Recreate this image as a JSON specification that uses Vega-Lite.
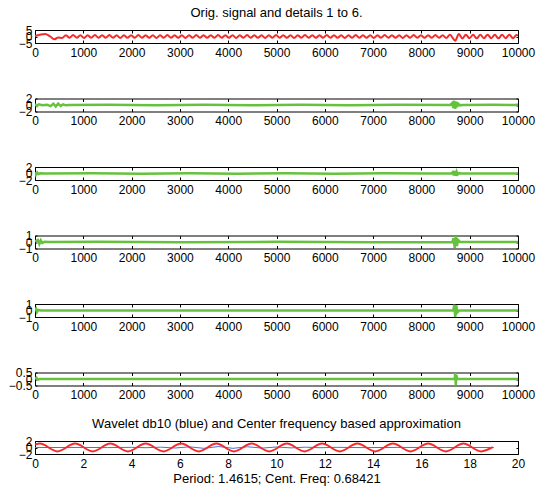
{
  "$schema": "https://vega.github.io/schema/vega-lite/v6.json",
  "background": "white",
  "padding": {"left": 7, "top": 6, "right": 0, "bottom": 0},
  "bounds": "flush",
  "spacing": 55.5,
  "config": {
    "font": "Liberation Sans",
    "view": {"stroke": "#000", "strokeWidth": 1},
    "axis": {"grid": false, "domain": false, "labelFont": "Liberation Sans", "labelFontSize": 12, "labelColor": "#000", "tickColor": "#000", "labelOverlap": false, "labelFlush": false, "title": null},
    "axisX": {"tickSize": -3, "labelPadding": 7},
    "axisY": {"tickSize": -2, "labelPadding": 5},
    "title": {"font": "Liberation Sans", "fontSize": 13, "fontWeight": "normal", "color": "#000", "offset": 4, "anchor": "middle", "frame": "group"}
  },
  "datasets": {
    "s0": [
      {"x":0,"y":0.3},{"x":100,"y":1.3},{"x":210,"y":2.0},{"x":310,"y":0.2},{"x":400,"y":-2.2},{"x":480,"y":-0.7},{"x":560,"y":-1.1},
      {"x":640,"y":1.0},{"x":715,"y":-1.0},{"x":790,"y":1.1},{"x":865,"y":-0.9},{"x":940,"y":1.0},{"x":1015,"y":-1.1},{"x":1090,"y":1.0},{"x":1165,"y":-1.0},{"x":1240,"y":1.1},{"x":1315,"y":-1.0},{"x":1390,"y":0.9},{"x":1465,"y":-1.0},{"x":1540,"y":1.1},{"x":1615,"y":-1.0},{"x":1690,"y":1.0},{"x":1765,"y":-1.1},{"x":1840,"y":1.0},{"x":1915,"y":-0.9},{"x":1990,"y":1.0},{"x":2065,"y":-1.0},{"x":2140,"y":1.1},{"x":2215,"y":-1.0},{"x":2290,"y":1.0},{"x":2365,"y":-1.0},{"x":2440,"y":0.9},{"x":2515,"y":-1.1},{"x":2590,"y":1.0},{"x":2665,"y":-1.0},{"x":2740,"y":1.1},{"x":2815,"y":-0.9},{"x":2890,"y":1.0},{"x":2965,"y":-1.0},{"x":3040,"y":1.0},{"x":3115,"y":-1.1},{"x":3190,"y":1.0},{"x":3265,"y":-1.0},{"x":3340,"y":1.1},{"x":3415,"y":-1.0},{"x":3490,"y":0.9},{"x":3565,"y":-1.0},{"x":3640,"y":1.0},{"x":3715,"y":-1.0},{"x":3790,"y":1.1},{"x":3865,"y":-1.0},{"x":3940,"y":1.0},{"x":4015,"y":-0.9},{"x":4090,"y":1.0},{"x":4165,"y":-1.1},{"x":4240,"y":1.0},{"x":4315,"y":-1.0},{"x":4390,"y":1.1},{"x":4465,"y":-1.0},{"x":4540,"y":1.0},{"x":4615,"y":-1.0},{"x":4690,"y":0.9},{"x":4765,"y":-1.1},{"x":4840,"y":1.0},{"x":4915,"y":-1.0},{"x":4990,"y":1.1},{"x":5065,"y":-0.9},{"x":5140,"y":1.0},{"x":5215,"y":-1.0},{"x":5290,"y":1.0},{"x":5365,"y":-1.1},{"x":5440,"y":1.0},{"x":5515,"y":-1.0},{"x":5590,"y":1.1},{"x":5665,"y":-1.0},{"x":5740,"y":0.9},{"x":5815,"y":-1.0},{"x":5890,"y":1.0},{"x":5965,"y":-1.0},{"x":6040,"y":1.1},{"x":6115,"y":-1.0},{"x":6190,"y":1.0},{"x":6265,"y":-0.9},{"x":6340,"y":1.0},{"x":6415,"y":-1.1},{"x":6490,"y":1.0},{"x":6565,"y":-1.0},{"x":6640,"y":1.1},{"x":6715,"y":-1.0},{"x":6790,"y":1.0},{"x":6865,"y":-1.0},{"x":6940,"y":0.9},{"x":7015,"y":-1.1},{"x":7090,"y":1.0},{"x":7165,"y":-1.0},{"x":7240,"y":1.1},{"x":7315,"y":-0.9},{"x":7390,"y":1.0},{"x":7465,"y":-1.0},{"x":7540,"y":1.0},{"x":7615,"y":-1.1},{"x":7690,"y":1.0},{"x":7765,"y":-1.0},{"x":7840,"y":1.1},{"x":7915,"y":-1.0},{"x":7990,"y":0.9},{"x":8065,"y":-1.0},{"x":8140,"y":1.0},{"x":8215,"y":-1.0},{"x":8290,"y":1.1},{"x":8365,"y":-1.0},{"x":8440,"y":1.0},{"x":8515,"y":-1.1},{"x":8590,"y":1.3},
      {"x":8700,"y":-3.2},{"x":8775,"y":1.9},{"x":8850,"y":-1.5},{"x":8920,"y":1.4},{"x":8995,"y":-1.3},{"x":9070,"y":1.3},{"x":9145,"y":-1.4},{"x":9220,"y":1.3},{"x":9295,"y":-1.3},{"x":9370,"y":1.4},{"x":9445,"y":-1.3},{"x":9520,"y":1.3},{"x":9595,"y":-1.4},{"x":9670,"y":1.3},{"x":9745,"y":-1.3},{"x":9820,"y":1.4},{"x":9895,"y":-1.3},{"x":9970,"y":1.2},{"x":10000,"y":0.6}
    ],
    "d1": [
      {"x":0,"y":0.3},{"x":40,"y":-0.3},{"x":80,"y":0.2},{"x":150,"y":-0.1},{"x":250,"y":0.1},{"x":320,"y":-0.35},{"x":380,"y":0.4},{"x":430,"y":-0.5},{"x":480,"y":0.45},{"x":530,"y":-0.3},{"x":580,"y":0.2},{"x":640,"y":-0.1},{"x":700,"y":0},{"x":1500,"y":0.05},{"x":2500,"y":-0.05},{"x":3500,"y":0.05},{"x":4500,"y":-0.05},{"x":5500,"y":0.05},{"x":6500,"y":-0.05},{"x":7500,"y":0.05},{"x":8600,"y":0},{"x":8640,"y":0.6},{"x":8660,"y":-0.9},{"x":8680,"y":1.3},{"x":8700,"y":-1.2},{"x":8720,"y":1.0},{"x":8740,"y":-0.7},{"x":8760,"y":0.4},{"x":8800,"y":-0.1},{"x":8850,"y":0},{"x":9500,"y":0.05},{"x":9950,"y":0},{"x":10000,"y":0.2}
    ],
    "d2": [
      {"x":0,"y":0.4},{"x":20,"y":-0.4},{"x":45,"y":0.3},{"x":70,"y":-0.15},{"x":110,"y":0.05},{"x":200,"y":0},{"x":1200,"y":0.04},{"x":2200,"y":-0.04},{"x":3200,"y":0.04},{"x":4200,"y":-0.04},{"x":5200,"y":0.04},{"x":6200,"y":-0.04},{"x":7200,"y":0.04},{"x":8200,"y":-0.03},{"x":8620,"y":0},{"x":8650,"y":0.4},{"x":8670,"y":-0.6},{"x":8690,"y":0.8},{"x":8710,"y":-0.7},{"x":8730,"y":0.5},{"x":8750,"y":-0.3},{"x":8780,"y":0.1},{"x":8820,"y":0},{"x":9400,"y":0.03},{"x":10000,"y":0}
    ],
    "d3": [
      {"x":0,"y":0.1},{"x":60,"y":0.3},{"x":90,"y":-0.3},{"x":120,"y":0.25},{"x":150,"y":-0.15},{"x":200,"y":0.05},{"x":300,"y":0},{"x":1300,"y":0.02},{"x":3000,"y":-0.02},{"x":5000,"y":0.02},{"x":7000,"y":-0.02},{"x":8640,"y":0},{"x":8665,"y":0.6},{"x":8690,"y":-0.9},{"x":8710,"y":0.9},{"x":8735,"y":-0.6},{"x":8760,"y":0.3},{"x":8800,"y":0},{"x":10000,"y":0}
    ],
    "d4": [
      {"x":0,"y":0},{"x":20,"y":0.25},{"x":40,"y":-0.25},{"x":70,"y":0.1},{"x":120,"y":0},{"x":3000,"y":0.01},{"x":6000,"y":-0.01},{"x":8660,"y":0},{"x":8680,"y":0.9},{"x":8700,"y":-1.0},{"x":8720,"y":0.8},{"x":8745,"y":-0.3},{"x":8780,"y":0},{"x":10000,"y":0}
    ],
    "d5": [
      {"x":0,"y":0},{"x":30,"y":0.1},{"x":60,"y":-0.05},{"x":100,"y":0},{"x":5000,"y":0},{"x":8690,"y":0},{"x":8700,"y":0.5},{"x":8712,"y":-0.5},{"x":8725,"y":0.3},{"x":8740,"y":0},{"x":10000,"y":0}
    ],
    "wr": [
      {"x":0,"y":0.9},{"x":0.2,"y":1.2},{"x":0.93,"y":-1.2},{"x":1.66,"y":1.2},{"x":2.39,"y":-1.2},{"x":3.12,"y":1.2},{"x":3.85,"y":-1.2},{"x":4.58,"y":1.2},{"x":5.32,"y":-1.2},{"x":6.05,"y":1.2},{"x":6.78,"y":-1.2},{"x":7.51,"y":1.2},{"x":8.24,"y":-1.2},{"x":8.97,"y":1.2},{"x":9.7,"y":-1.2},{"x":10.43,"y":1.2},{"x":11.16,"y":-1.2},{"x":11.89,"y":1.2},{"x":12.62,"y":-1.2},{"x":13.35,"y":1.2},{"x":14.09,"y":-1.2},{"x":14.82,"y":1.2},{"x":15.55,"y":-1.2},{"x":16.28,"y":1.2},{"x":17.01,"y":-1.2},{"x":17.74,"y":1.2},{"x":18.47,"y":-1.2},{"x":18.95,"y":0.1}
    ],
    "wb": [
      {"x":0,"y":0},{"x":1,"y":0},{"x":2,"y":0.02},{"x":3,"y":-0.03},{"x":4,"y":0.05},{"x":4.6,"y":-0.06},{"x":5.2,"y":0.1},{"x":5.8,"y":-0.15},{"x":6.4,"y":0.2},{"x":7.0,"y":-0.25},{"x":7.6,"y":0.3},{"x":8.2,"y":-0.25},{"x":8.8,"y":0.22},{"x":9.4,"y":-0.18},{"x":10,"y":0.15},{"x":10.6,"y":-0.12},{"x":11.2,"y":0.1},{"x":11.8,"y":-0.07},{"x":12.5,"y":0.05},{"x":13.5,"y":-0.03},{"x":15,"y":0.02},{"x":17,"y":0},{"x":19,"y":0}
    ]
  },
  "vconcat": [
    {
      "width": 483, "height": 13,
      "title": "Orig. signal and details 1 to 6.",
      "data": {"name": "s0"},
      "layer": [
        {"mark": {"type": "line", "color": "#f52a2a", "strokeWidth": 2, "interpolate": "monotone", "clip": true},
         "encoding": {
           "x": {"field": "x", "type": "quantitative", "scale": {"domain": [0, 10000], "nice": false}, "axis": {"values": [0,1000,2000,3000,4000,5000,6000,7000,8000,9000,10000], "format": "d"}},
           "y": {"field": "y", "type": "quantitative", "scale": {"domain": [-5, 5], "nice": false}, "axis": {"values": [-5, 0, 5], "format": "~g"}}}},
        {"mark": {"type": "line", "strokeOpacity": 0},
         "encoding": {
           "x": {"field": "x", "type": "quantitative", "scale": {"domain": [0, 10000], "nice": false}, "axis": {"orient": "top", "labels": false, "values": [0,1000,2000,3000,4000,5000,6000,7000,8000,9000,10000]}},
           "y": {"field": "y", "type": "quantitative", "scale": {"domain": [-5, 5], "nice": false}, "axis": {"orient": "right", "labels": false, "values": [-5, 0, 5]}}}}
      ],
      "resolve": {"axis": {"x": "independent", "y": "independent"}}
    },
    {
      "width": 483, "height": 13,
      "data": {"name": "d1"},
      "layer": [
        {"mark": {"type": "line", "color": "#66c23e", "strokeWidth": 2.5, "clip": true},
         "encoding": {
           "x": {"field": "x", "type": "quantitative", "scale": {"domain": [0, 10000], "nice": false}, "axis": {"values": [0,1000,2000,3000,4000,5000,6000,7000,8000,9000,10000], "format": "d"}},
           "y": {"field": "y", "type": "quantitative", "scale": {"domain": [-2, 2], "nice": false}, "axis": {"values": [-2, 0, 2], "format": "~g"}}}},
        {"mark": {"type": "line", "strokeOpacity": 0},
         "encoding": {
           "x": {"field": "x", "type": "quantitative", "scale": {"domain": [0, 10000], "nice": false}, "axis": {"orient": "top", "labels": false, "values": [0,1000,2000,3000,4000,5000,6000,7000,8000,9000,10000]}},
           "y": {"field": "y", "type": "quantitative", "scale": {"domain": [-2, 2], "nice": false}, "axis": {"orient": "right", "labels": false, "values": [-2, 0, 2]}}}}
      ],
      "resolve": {"axis": {"x": "independent", "y": "independent"}}
    },
    {
      "width": 483, "height": 13,
      "data": {"name": "d2"},
      "layer": [
        {"mark": {"type": "line", "color": "#66c23e", "strokeWidth": 2.5, "clip": true},
         "encoding": {
           "x": {"field": "x", "type": "quantitative", "scale": {"domain": [0, 10000], "nice": false}, "axis": {"values": [0,1000,2000,3000,4000,5000,6000,7000,8000,9000,10000], "format": "d"}},
           "y": {"field": "y", "type": "quantitative", "scale": {"domain": [-2, 2], "nice": false}, "axis": {"values": [-2, 0, 2], "format": "~g"}}}},
        {"mark": {"type": "line", "strokeOpacity": 0},
         "encoding": {
           "x": {"field": "x", "type": "quantitative", "scale": {"domain": [0, 10000], "nice": false}, "axis": {"orient": "top", "labels": false, "values": [0,1000,2000,3000,4000,5000,6000,7000,8000,9000,10000]}},
           "y": {"field": "y", "type": "quantitative", "scale": {"domain": [-2, 2], "nice": false}, "axis": {"orient": "right", "labels": false, "values": [-2, 0, 2]}}}}
      ],
      "resolve": {"axis": {"x": "independent", "y": "independent"}}
    },
    {
      "width": 483, "height": 13,
      "data": {"name": "d3"},
      "layer": [
        {"mark": {"type": "line", "color": "#66c23e", "strokeWidth": 2.5, "clip": true},
         "encoding": {
           "x": {"field": "x", "type": "quantitative", "scale": {"domain": [0, 10000], "nice": false}, "axis": {"values": [0,1000,2000,3000,4000,5000,6000,7000,8000,9000,10000], "format": "d"}},
           "y": {"field": "y", "type": "quantitative", "scale": {"domain": [-1, 1], "nice": false}, "axis": {"values": [-1, 0, 1], "format": "~g"}}}},
        {"mark": {"type": "line", "strokeOpacity": 0},
         "encoding": {
           "x": {"field": "x", "type": "quantitative", "scale": {"domain": [0, 10000], "nice": false}, "axis": {"orient": "top", "labels": false, "values": [0,1000,2000,3000,4000,5000,6000,7000,8000,9000,10000]}},
           "y": {"field": "y", "type": "quantitative", "scale": {"domain": [-1, 1], "nice": false}, "axis": {"orient": "right", "labels": false, "values": [-1, 0, 1]}}}}
      ],
      "resolve": {"axis": {"x": "independent", "y": "independent"}}
    },
    {
      "width": 483, "height": 13,
      "data": {"name": "d4"},
      "layer": [
        {"mark": {"type": "line", "color": "#66c23e", "strokeWidth": 2.5, "clip": true},
         "encoding": {
           "x": {"field": "x", "type": "quantitative", "scale": {"domain": [0, 10000], "nice": false}, "axis": {"values": [0,1000,2000,3000,4000,5000,6000,7000,8000,9000,10000], "format": "d"}},
           "y": {"field": "y", "type": "quantitative", "scale": {"domain": [-1, 1], "nice": false}, "axis": {"values": [-1, 0, 1], "format": "~g"}}}},
        {"mark": {"type": "line", "strokeOpacity": 0},
         "encoding": {
           "x": {"field": "x", "type": "quantitative", "scale": {"domain": [0, 10000], "nice": false}, "axis": {"orient": "top", "labels": false, "values": [0,1000,2000,3000,4000,5000,6000,7000,8000,9000,10000]}},
           "y": {"field": "y", "type": "quantitative", "scale": {"domain": [-1, 1], "nice": false}, "axis": {"orient": "right", "labels": false, "values": [-1, 0, 1]}}}}
      ],
      "resolve": {"axis": {"x": "independent", "y": "independent"}}
    },
    {
      "width": 483, "height": 13,
      "data": {"name": "d5"},
      "layer": [
        {"mark": {"type": "line", "color": "#66c23e", "strokeWidth": 2.5, "clip": true},
         "encoding": {
           "x": {"field": "x", "type": "quantitative", "scale": {"domain": [0, 10000], "nice": false}, "axis": {"values": [0,1000,2000,3000,4000,5000,6000,7000,8000,9000,10000], "format": "d"}},
           "y": {"field": "y", "type": "quantitative", "scale": {"domain": [-0.5, 0.5], "nice": false}, "axis": {"values": [-0.5, 0, 0.5], "format": "~g"}}}},
        {"mark": {"type": "line", "strokeOpacity": 0},
         "encoding": {
           "x": {"field": "x", "type": "quantitative", "scale": {"domain": [0, 10000], "nice": false}, "axis": {"orient": "top", "labels": false, "values": [0,1000,2000,3000,4000,5000,6000,7000,8000,9000,10000]}},
           "y": {"field": "y", "type": "quantitative", "scale": {"domain": [-0.5, 0.5], "nice": false}, "axis": {"orient": "right", "labels": false, "values": [-0.5, 0, 0.5]}}}}
      ],
      "resolve": {"axis": {"x": "independent", "y": "independent"}}
    },
    {
      "width": 483, "height": 13,
      "title": "Wavelet db10 (blue) and Center frequency based approximation",
      "layer": [
        {"data": {"name": "wb"},
         "mark": {"type": "line", "color": "#4a6fd8", "strokeWidth": 1, "clip": true},
         "encoding": {
           "x": {"field": "x", "type": "quantitative", "scale": {"domain": [0, 20], "nice": false}, "axis": {"values": [0,2,4,6,8,10,12,14,16,18,20], "format": "~g", "title": "Period: 1.4615; Cent. Freq: 0.68421", "titleFont": "Liberation Sans", "titleFontSize": 13, "titleFontWeight": "normal", "titleColor": "#000", "titlePadding": 3}},
           "y": {"field": "y", "type": "quantitative", "scale": {"domain": [-2, 2], "nice": false}, "axis": {"values": [-2, 0, 2], "format": "~g"}}}},
        {"data": {"name": "wr"},
         "mark": {"type": "line", "color": "#f52a2a", "strokeWidth": 2, "interpolate": "monotone", "clip": true},
         "encoding": {
           "x": {"field": "x", "type": "quantitative", "scale": {"domain": [0, 20], "nice": false}, "axis": {"orient": "top", "labels": false, "values": [0,2,4,6,8,10,12,14,16,18,20]}},
           "y": {"field": "y", "type": "quantitative", "scale": {"domain": [-2, 2], "nice": false}, "axis": {"orient": "right", "labels": false, "values": [-2, 0, 2]}}}}
      ],
      "resolve": {"axis": {"x": "independent", "y": "independent"}}
    }
  ]
}
